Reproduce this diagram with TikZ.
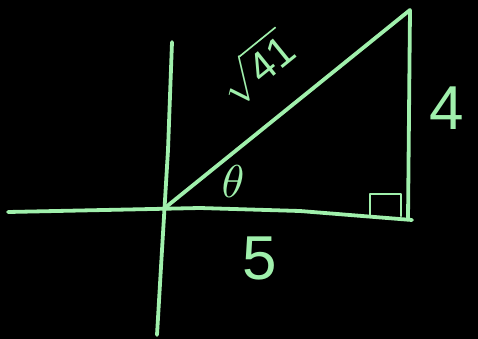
\documentclass[tikz,border=0pt]{standalone}
\usepackage{fontspec}
\setsansfont{Liberation Sans}
\begin{document}
\begin{tikzpicture}[x=1pt,y=-1pt, line join=round, line cap=round, font=\sffamily]
			\definecolor{chalk}{RGB}{160,240,172}
			\tikzset{stroke/.style={draw=chalk,line width=3.8pt},
				lbl/.style={text=chalk,inner sep=0pt}}
			\fill[black] (0,0) rectangle (478,339);
			\useasboundingbox (0,0) rectangle (478,339);
			\coordinate (O) at (166,207);
			\coordinate (A) at (410,10);
			\coordinate (B) at (408,219);
			% axes
			\draw[stroke] (8,212)--(200,208)--(300,211)--(412,220);
			\draw[stroke] (172,42)--(168,150)--(162,250)--(157,335);
			% triangle
			\draw[stroke] (O)--(A)--(B);
			\draw[stroke,line width=2.8pt] (370,216)--(370,194)--(401,194)--(401,216);
			% labels
			\node[lbl,rotate=39,scale=4.2] (hyp) at (256,68) {$\sqrt{\mathsf{41}}$};
			\node[lbl,font=\sffamily\fontsize{62}{62}\selectfont] (side) at (447,108) {4};
			\node[lbl,font=\sffamily\fontsize{62}{62}\selectfont] (base) at (260,258) {5};
			\node[lbl,scale=4.6] (ang) at (233,182) {$\theta$};
		\end{tikzpicture}
\end{document}
